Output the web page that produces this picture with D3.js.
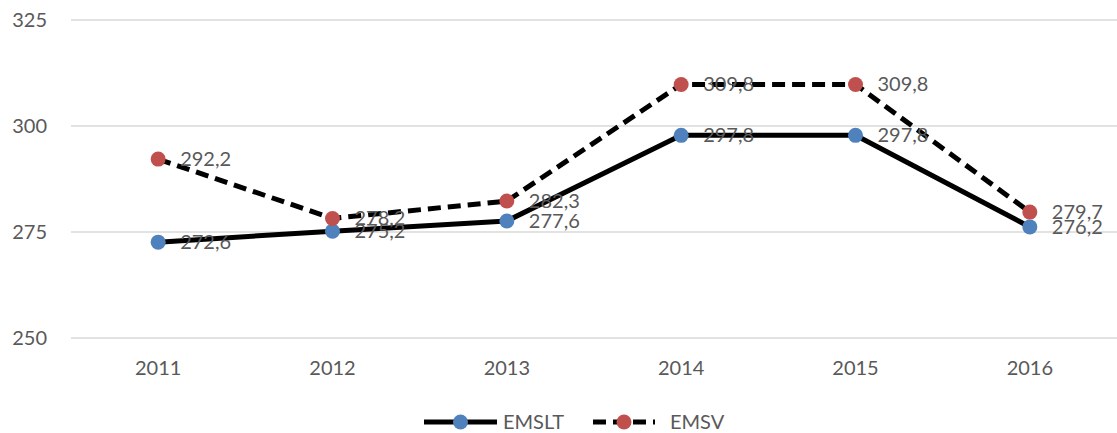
<!DOCTYPE html>
<html>
<head>
<meta charset="utf-8">
<script src="https://cdn.jsdelivr.net/npm/d3@7"></script>
<style>
  html, body { margin: 0; padding: 0; background: #fff; }
  svg { display: block; font-family: Lato, "Open Sans", sans-serif; }
</style>
</head>
<body>
<svg id="chart" width="1117" height="433"></svg>
<script>
// Categories and series values
const years = ["2011", "2012", "2013", "2014", "2015", "2016"];
const emslt = [272.6, 275.2, 277.6, 297.8, 297.8, 276.2];
const emsv  = [292.2, 278.2, 282.3, 309.8, 309.8, 279.7];
const yTicks = [250, 275, 300, 325];
const seriesNames = ["EMSLT", "EMSV"];

const svg = d3.select("#chart");
const plot = { left: 71, right: 1117, top: 20, bottom: 338 };

const x = d3.scaleBand().domain(years).range([plot.left, plot.right]);
const y = d3.scaleLinear().domain([250, 325]).range([plot.bottom, plot.top]);
const cx = d => x(d) + x.bandwidth() / 2;

const textColor = "#595959";
const fontSize = 20;
const fontFamily = "Lato, 'Open Sans', sans-serif";

// Horizontal gridlines
svg.append("g").selectAll("line").data(yTicks).join("line")
  .attr("x1", plot.left).attr("x2", plot.right)
  .attr("y1", d => y(d)).attr("y2", d => y(d))
  .attr("stroke", "#d9d9d9").attr("stroke-width", 1.3);

// Y axis labels
const yAxis = d3.axisLeft(y).tickValues(yTicks).tickSize(0).tickPadding(0);
const gy = svg.append("g").attr("transform", "translate(47,0)").call(yAxis);
gy.select(".domain").remove();
gy.selectAll("text").attr("font-size", fontSize).attr("fill", textColor)
  .attr("font-family", fontFamily);

// X axis labels
const xAxis = d3.axisBottom(x).tickSize(0).tickPadding(0);
const gx = svg.append("g").attr("transform", `translate(0,${plot.bottom + 23})`).call(xAxis);
gx.select(".domain").remove();
gx.selectAll("text").attr("font-size", fontSize).attr("fill", textColor)
  .attr("font-family", fontFamily);

const series = [
  { name: seriesNames[0], values: emslt, color: "#4F81BD", dash: null },
  { name: seriesNames[1], values: emsv,  color: "#C0504D", dash: "13,7" }
];

const line = d3.line().x((d, i) => cx(years[i])).y(d => y(d));

// Lines
series.forEach(s => {
  svg.append("path").datum(s.values)
    .attr("d", line)
    .attr("fill", "none")
    .attr("stroke", "#000")
    .attr("stroke-width", 5)
    .attr("stroke-linejoin", "round")
    .attr("stroke-dasharray", s.dash);
});

// Markers
series.forEach(s => {
  svg.append("g").selectAll("circle").data(s.values).join("circle")
    .attr("cx", (d, i) => cx(years[i]))
    .attr("cy", d => y(d))
    .attr("r", 7.5)
    .attr("fill", s.color);
});

// Data labels, placed to the right of each point
const fmt = v => d3.format(".1f")(v).replace(".", ",");
series.forEach(s => {
  svg.append("g").selectAll("text").data(s.values).join("text")
    .attr("x", (d, i) => cx(years[i]) + 22)
    .attr("y", d => y(d))
    .attr("dy", "0.35em")
    .attr("font-size", fontSize)
    .attr("font-family", fontFamily)
    .attr("fill", textColor)
    .text(fmt);
});

// Legend
const legendY = 422;
const legend = [
  { s: series[0], x0: 424, x1: 497, tx: 503 },
  { s: series[1], x0: 593, x1: 655, tx: 670 }
];
legend.forEach(l => {
  svg.append("line")
    .attr("x1", l.x0).attr("x2", l.x1)
    .attr("y1", legendY).attr("y2", legendY)
    .attr("stroke", "#000").attr("stroke-width", 5)
    .attr("stroke-dasharray", l.s.dash);
  svg.append("circle")
    .attr("cx", (l.x0 + l.x1) / 2).attr("cy", legendY).attr("r", 7.5)
    .attr("fill", l.s.color);
  svg.append("text")
    .attr("x", l.tx).attr("y", legendY).attr("dy", "0.35em")
    .attr("font-size", fontSize).attr("font-family", fontFamily)
    .attr("fill", textColor)
    .text(l.s.name);
});
</script>
</body>
</html>
